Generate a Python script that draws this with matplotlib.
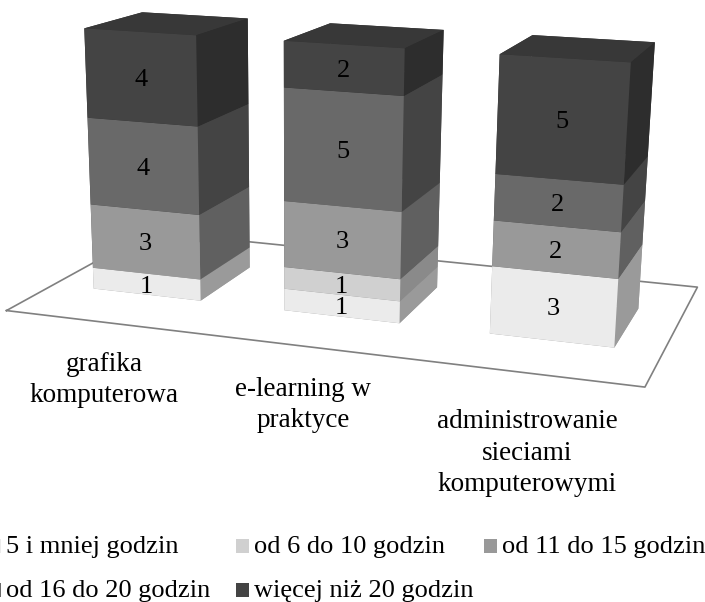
import numpy as np
import matplotlib
matplotlib.use("Agg")
import matplotlib.pyplot as plt
from matplotlib.patches import Rectangle
from mpl_toolkits.mplot3d import proj3d

plt.rcParams["font.family"] = ["Liberation Serif", "DejaVu Serif"]

# Survey data
categories = ["grafika\nkomputerowa", "e-learning w\npraktyce", "administrowanie\nsieciami\nkomputerowymi"]
series = ["5 i mniej godzin", "od 6 do 10 godzin", "od 11 do 15 godzin",
          "od 16 do 20 godzin", "więcej niż 20 godzin"]
up_to_5 = [1, 1, 3]
from_6_to_10 = [0, 1, 0]
from_11_to_15 = [3, 3, 2]
from_16_to_20 = [4, 5, 2]
over_20 = [4, 2, 5]
stack = [up_to_5, from_6_to_10, from_11_to_15, from_16_to_20, over_20]

front_colors = ["#ebebeb", "#d0d0d0", "#999999", "#696969", "#444444"]
side_colors = ["#9a9a9a", "#8a8a8a", "#606060", "#444444", "#2d2d2d"]
top_color = "#383838"

W, H = 705, 602
fig = plt.figure(figsize=(W / 100, H / 100), dpi=100, facecolor="white")

# -----------------------------
# 3D stacked bars on a floor
# -----------------------------
size = 1000
cx, cy = 349, 312
ax = fig.add_axes([(cx - size / 2) / W, 1 - (cy + size / 2) / H, size / W, size / H],
                  projection="3d", computed_zorder=False)
ax.set_proj_type("persp", focal_length=0.315)
ax.view_init(elev=17, azim=-71.6, roll=-0.7)
ax.set_box_aspect((3.67, 1.9, 3.37), zoom=0.875)
ax.set_xlim(-0.5, 2.5)
ax.set_ylim(0, 1)
ax.set_zlim(-13, 13)
ax.set_xticks([])
ax.set_yticks([])
ax.set_zticks([])
ax.set_axis_off()
ax.patch.set_alpha(0)

# floor outline
ax.plot([-0.5, 2.5, 2.5, -0.5, -0.5], [0, 0, 1, 1, 0], [0, 0, 0, 0, 0],
        color="#808080", lw=1.2, zorder=1)

bar_w = 0.57
y0, bar_d = 0.3, 0.4
proj = ax.get_proj()
xs, ys, zs, dzs, face_cols = [], [], [], [], []
for i in range(len(categories)):
    bottom = 0
    for s, vals in enumerate(stack):
        v = vals[i]
        if v == 0:
            continue
        xs.append(i - bar_w / 2)
        ys.append(y0)
        zs.append(bottom)
        dzs.append(v)
        # face order in bar3d: -z, +z, -y, +y, -x, +x
        face_cols += [side_colors[s], top_color if s == 4 else side_colors[s],
                      front_colors[s], side_colors[s], side_colors[s], side_colors[s]]
        # value label in the middle of the front face
        tx, ty, _ = proj3d.proj_transform(i, y0, bottom + v / 2, proj)
        ax.text2D(tx, ty, str(v), transform=ax.transData, ha="center", va="center_baseline",
                  fontsize=19, color="black", zorder=5)
        bottom += v

ax.bar3d(xs, ys, zs, bar_w, bar_d, dzs, color=face_cols, shade=False,
         edgecolor="none", zorder=2)

# category labels
label_pos = [(104, 380), (303, 405), (527, 453)]
for name, (px, py) in zip(categories, label_pos):
    fig.text(px / W, 1 - py / H, name, ha="center", va="center", fontsize=19.5,
             linespacing=1.32, color="black")

# legend, first row runs off the page on both sides
legend_pos = [(-12, 546), (236, 546), (484, 546), (-12, 590), (236, 590)]
for name, col, (px, py) in zip(series, front_colors, legend_pos):
    fig.patches.append(Rectangle((px / W, 1 - (py + 7) / H), 13 / W, 14 / H,
                                 transform=fig.transFigure, facecolor=col,
                                 edgecolor="none", figure=fig))
    fig.text((px + 18) / W, 1 - (py + 1) / H, name, ha="left", va="center", fontsize=19,
             color="black")

plt.savefig("out.png", dpi=100, facecolor="white")
plt.close()
